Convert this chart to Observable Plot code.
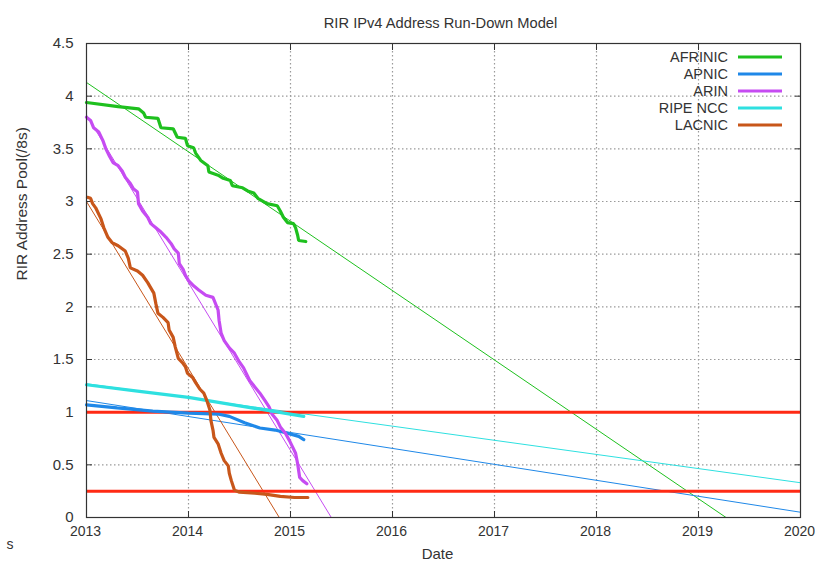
<!DOCTYPE html>
<html>
<head>
<meta charset="utf-8">
<script src="https://cdn.jsdelivr.net/npm/d3@7"></script>
<script src="https://cdn.jsdelivr.net/npm/@observablehq/plot@0.6"></script>
<style>
  html, body { margin: 0; padding: 0; background: #fff; }
  #wrap { position: relative; width: 815px; height: 568px; font-family: "Liberation Sans", Arial, sans-serif; }
  #chart svg { overflow: visible; }
  #legend { position: absolute; right: 33px; top: 48px; font-size: 14.5px; color: #333; }
  #legend .row { display: flex; align-items: center; justify-content: flex-end; height: 17.2px; }
  #legend svg { margin-left: 10px; }
</style>
</head>
<body>
<div id="wrap"><div id="chart"></div><div id="legend"></div></div>
<script>
// ---- data ----
const regions = ["AFRINIC", "APNIC", "ARIN", "RIPE NCC", "LACNIC"];
const colors  = ["#1ec01e", "#1f88e8", "#c64cf2", "#2ee0e0", "#c8561a"];

const afrinicYears  = [2013.0, 2013.31, 2013.51, 2013.56, 2013.58, 2013.70, 2013.73, 2013.85, 2013.89, 2013.97, 2013.99, 2014.05, 2014.07, 2014.12, 2014.19, 2014.20, 2014.29, 2014.34, 2014.41, 2014.43, 2014.53, 2014.58, 2014.64, 2014.68, 2014.77, 2014.87, 2014.90, 2014.93, 2014.97, 2015.03, 2015.05, 2015.07, 2015.08, 2015.15];
const afrinicValues = [3.94, 3.90, 3.88, 3.84, 3.80, 3.79, 3.70, 3.69, 3.61, 3.60, 3.53, 3.51, 3.46, 3.39, 3.34, 3.28, 3.25, 3.22, 3.20, 3.15, 3.13, 3.10, 3.08, 3.03, 2.98, 2.96, 2.91, 2.85, 2.80, 2.79, 2.75, 2.68, 2.63, 2.62];

const apnicYears  = [2013.0, 2013.3, 2013.65, 2014.0, 2014.3, 2014.4, 2014.55, 2014.7, 2014.85, 2014.97, 2015.08, 2015.13];
const apnicValues = [1.07, 1.04, 1.01, 0.99, 0.98, 0.96, 0.90, 0.85, 0.83, 0.80, 0.77, 0.74];

const arinYears  = [2013.0, 2013.04, 2013.07, 2013.12, 2013.16, 2013.19, 2013.22, 2013.26, 2013.31, 2013.35, 2013.38, 2013.43, 2013.46, 2013.50, 2013.51, 2013.55, 2013.60, 2013.63, 2013.68, 2013.73, 2013.78, 2013.83, 2013.86, 2013.90, 2013.91, 2013.95, 2013.97, 2014.0, 2014.05, 2014.10, 2014.17, 2014.24, 2014.29, 2014.30, 2014.32, 2014.35, 2014.40, 2014.45, 2014.49, 2014.54, 2014.57, 2014.60, 2014.65, 2014.70, 2014.75, 2014.79, 2014.82, 2014.87, 2014.90, 2014.95, 2014.99, 2015.02, 2015.05, 2015.07, 2015.09, 2015.12, 2015.16];
const arinValues = [3.80, 3.77, 3.70, 3.66, 3.58, 3.50, 3.44, 3.37, 3.34, 3.29, 3.23, 3.17, 3.12, 3.09, 2.98, 2.91, 2.85, 2.79, 2.75, 2.71, 2.66, 2.60, 2.55, 2.51, 2.41, 2.35, 2.30, 2.25, 2.20, 2.16, 2.11, 2.09, 1.97, 1.87, 1.75, 1.68, 1.61, 1.56, 1.49, 1.42, 1.36, 1.30, 1.24, 1.18, 1.11, 1.05, 0.98, 0.92, 0.86, 0.80, 0.73, 0.67, 0.61, 0.51, 0.38, 0.35, 0.32];

const ripeYears  = [2013.0, 2013.5, 2014.0, 2014.5, 2015.13];
const ripeValues = [1.26, 1.20, 1.14, 1.06, 0.96];

const lacnicYears  = [2013.01, 2013.04, 2013.06, 2013.09, 2013.14, 2013.17, 2013.21, 2013.25, 2013.31, 2013.38, 2013.41, 2013.43, 2013.50, 2013.55, 2013.60, 2013.63, 2013.66, 2013.68, 2013.70, 2013.75, 2013.80, 2013.81, 2013.85, 2013.87, 2013.90, 2013.94, 2013.97, 2013.99, 2014.04, 2014.07, 2014.11, 2014.15, 2014.18, 2014.21, 2014.22, 2014.24, 2014.25, 2014.29, 2014.32, 2014.35, 2014.39, 2014.40, 2014.42, 2014.45, 2014.50, 2014.65, 2014.77, 2014.90, 2015.04, 2015.17];
const lacnicValues = [3.04, 3.03, 2.98, 2.94, 2.84, 2.75, 2.66, 2.61, 2.58, 2.53, 2.46, 2.37, 2.34, 2.30, 2.23, 2.18, 2.13, 2.03, 1.94, 1.90, 1.85, 1.78, 1.71, 1.62, 1.51, 1.47, 1.43, 1.37, 1.33, 1.28, 1.22, 1.18, 1.11, 1.02, 0.92, 0.83, 0.76, 0.70, 0.61, 0.54, 0.49, 0.42, 0.35, 0.26, 0.24, 0.23, 0.22, 0.20, 0.19, 0.19];

// linear run-down trend lines (start/end points per region)
const trendStartYear  = [2013, 2013, 2013, 2013, 2013];
const trendStartValue = [4.13, 1.11, 3.82, 1.27, 3.00];
const trendEndYear    = [2019.27, 2020, 2015.40, 2020, 2014.89];
const trendEndValue   = [0, 0.05, 0, 0.33, 0];

const thresholds = [1.0, 0.25];
const xTicks = [2013, 2014, 2015, 2016, 2017, 2018, 2019, 2020];
const yTicks = [0, 0.5, 1, 1.5, 2, 2.5, 3, 3.5, 4, 4.5];

// ---- build tables ----
const seriesYears  = [afrinicYears, apnicYears, arinYears, ripeYears, lacnicYears];
const seriesValues = [afrinicValues, apnicValues, arinValues, ripeValues, lacnicValues];
const observed = regions.flatMap((r, i) => seriesYears[i].map((y, j) => ({region: r, year: y, value: seriesValues[i][j]})));
const trends = regions.flatMap((r, i) => [
  {region: r, year: trendStartYear[i], value: trendStartValue[i]},
  {region: r, year: trendEndYear[i], value: trendEndValue[i]}
]);

const gridStyle = {stroke: "#9a9a9a", strokeOpacity: 1, strokeWidth: 1.2, strokeDasharray: "1.5,2.5"};

const chart = Plot.plot({
  width: 815,
  height: 568,
  marginLeft: 86,
  marginRight: 15,
  marginTop: 43,
  marginBottom: 51,
  style: {fontFamily: "'Liberation Sans', Arial, sans-serif", fontSize: "15px", color: "#333", background: "#fff"},
  x: {domain: [2013, 2020]},
  y: {domain: [0, 4.5]},
  color: {domain: regions, range: colors},
  marks: [
    Plot.gridX(xTicks.slice(1, -1), gridStyle),
    Plot.gridY(yTicks.slice(1, -1), gridStyle),
    Plot.axisX(xTicks, {anchor: "bottom", tickSize: 0, tickPadding: 9, dx: -1, tickFormat: d => String(d), label: null, fontSize: 14}),
    Plot.axisX(xTicks, {anchor: "bottom", tickSize: -6, tickFormat: () => "", label: null}),
    Plot.axisX(xTicks, {anchor: "top", tickSize: -6, tickFormat: () => "", label: null}),
    Plot.axisY(yTicks, {anchor: "left", tickSize: 0, tickPadding: 13, tickFormat: d => String(d), label: null, fontSize: 15}),
    Plot.axisY(yTicks, {anchor: "left", tickSize: -6, tickFormat: () => "", label: null}),
    Plot.axisY(yTicks, {anchor: "right", tickSize: -6, tickFormat: () => "", label: null}),
    Plot.line(trends, {x: "year", y: "value", z: "region", stroke: "region", strokeWidth: 1, clip: true}),
    Plot.ruleY(thresholds, {stroke: "#ff2a14", strokeWidth: 3}),
    Plot.line(observed, {x: "year", y: "value", z: "region", stroke: "region", strokeWidth: 3.2, strokeLinejoin: "miter", curve: "linear"}),
    Plot.frame({stroke: "#333", strokeWidth: 1.2}),
    Plot.text(["RIR IPv4 Address Run-Down Model"], {frameAnchor: "top", dy: -26, dx: -3, text: d => d, fontSize: 14.7, fill: "#333"}),
    Plot.text(["Date"], {frameAnchor: "bottom", dy: 41, dx: -6, text: d => d, fontSize: 15, fill: "#333"}),
    Plot.text(["RIR Address Pool(/8s)"], {frameAnchor: "left", dx: -64, rotate: -90, text: d => d, fontSize: 15.5, fill: "#333"}),
    Plot.text(["s"], {frameAnchor: "bottom-left", dx: -80, dy: 31, text: d => d, fontSize: 14, fill: "#333"})
  ]
});
document.getElementById("chart").appendChild(chart);

// legend
const legend = document.getElementById("legend");
regions.forEach((r, i) => {
  const row = document.createElement("div");
  row.className = "row";
  const label = document.createElement("span");
  label.textContent = r;
  row.appendChild(label);
  const sw = d3.create("svg").attr("width", 44).attr("height", 6);
  sw.append("line").attr("x1", 0).attr("x2", 44).attr("y1", 3).attr("y2", 3).attr("stroke", colors[i]).attr("stroke-width", 3);
  row.appendChild(sw.node());
  legend.appendChild(row);
});
</script>
</body>
</html>
